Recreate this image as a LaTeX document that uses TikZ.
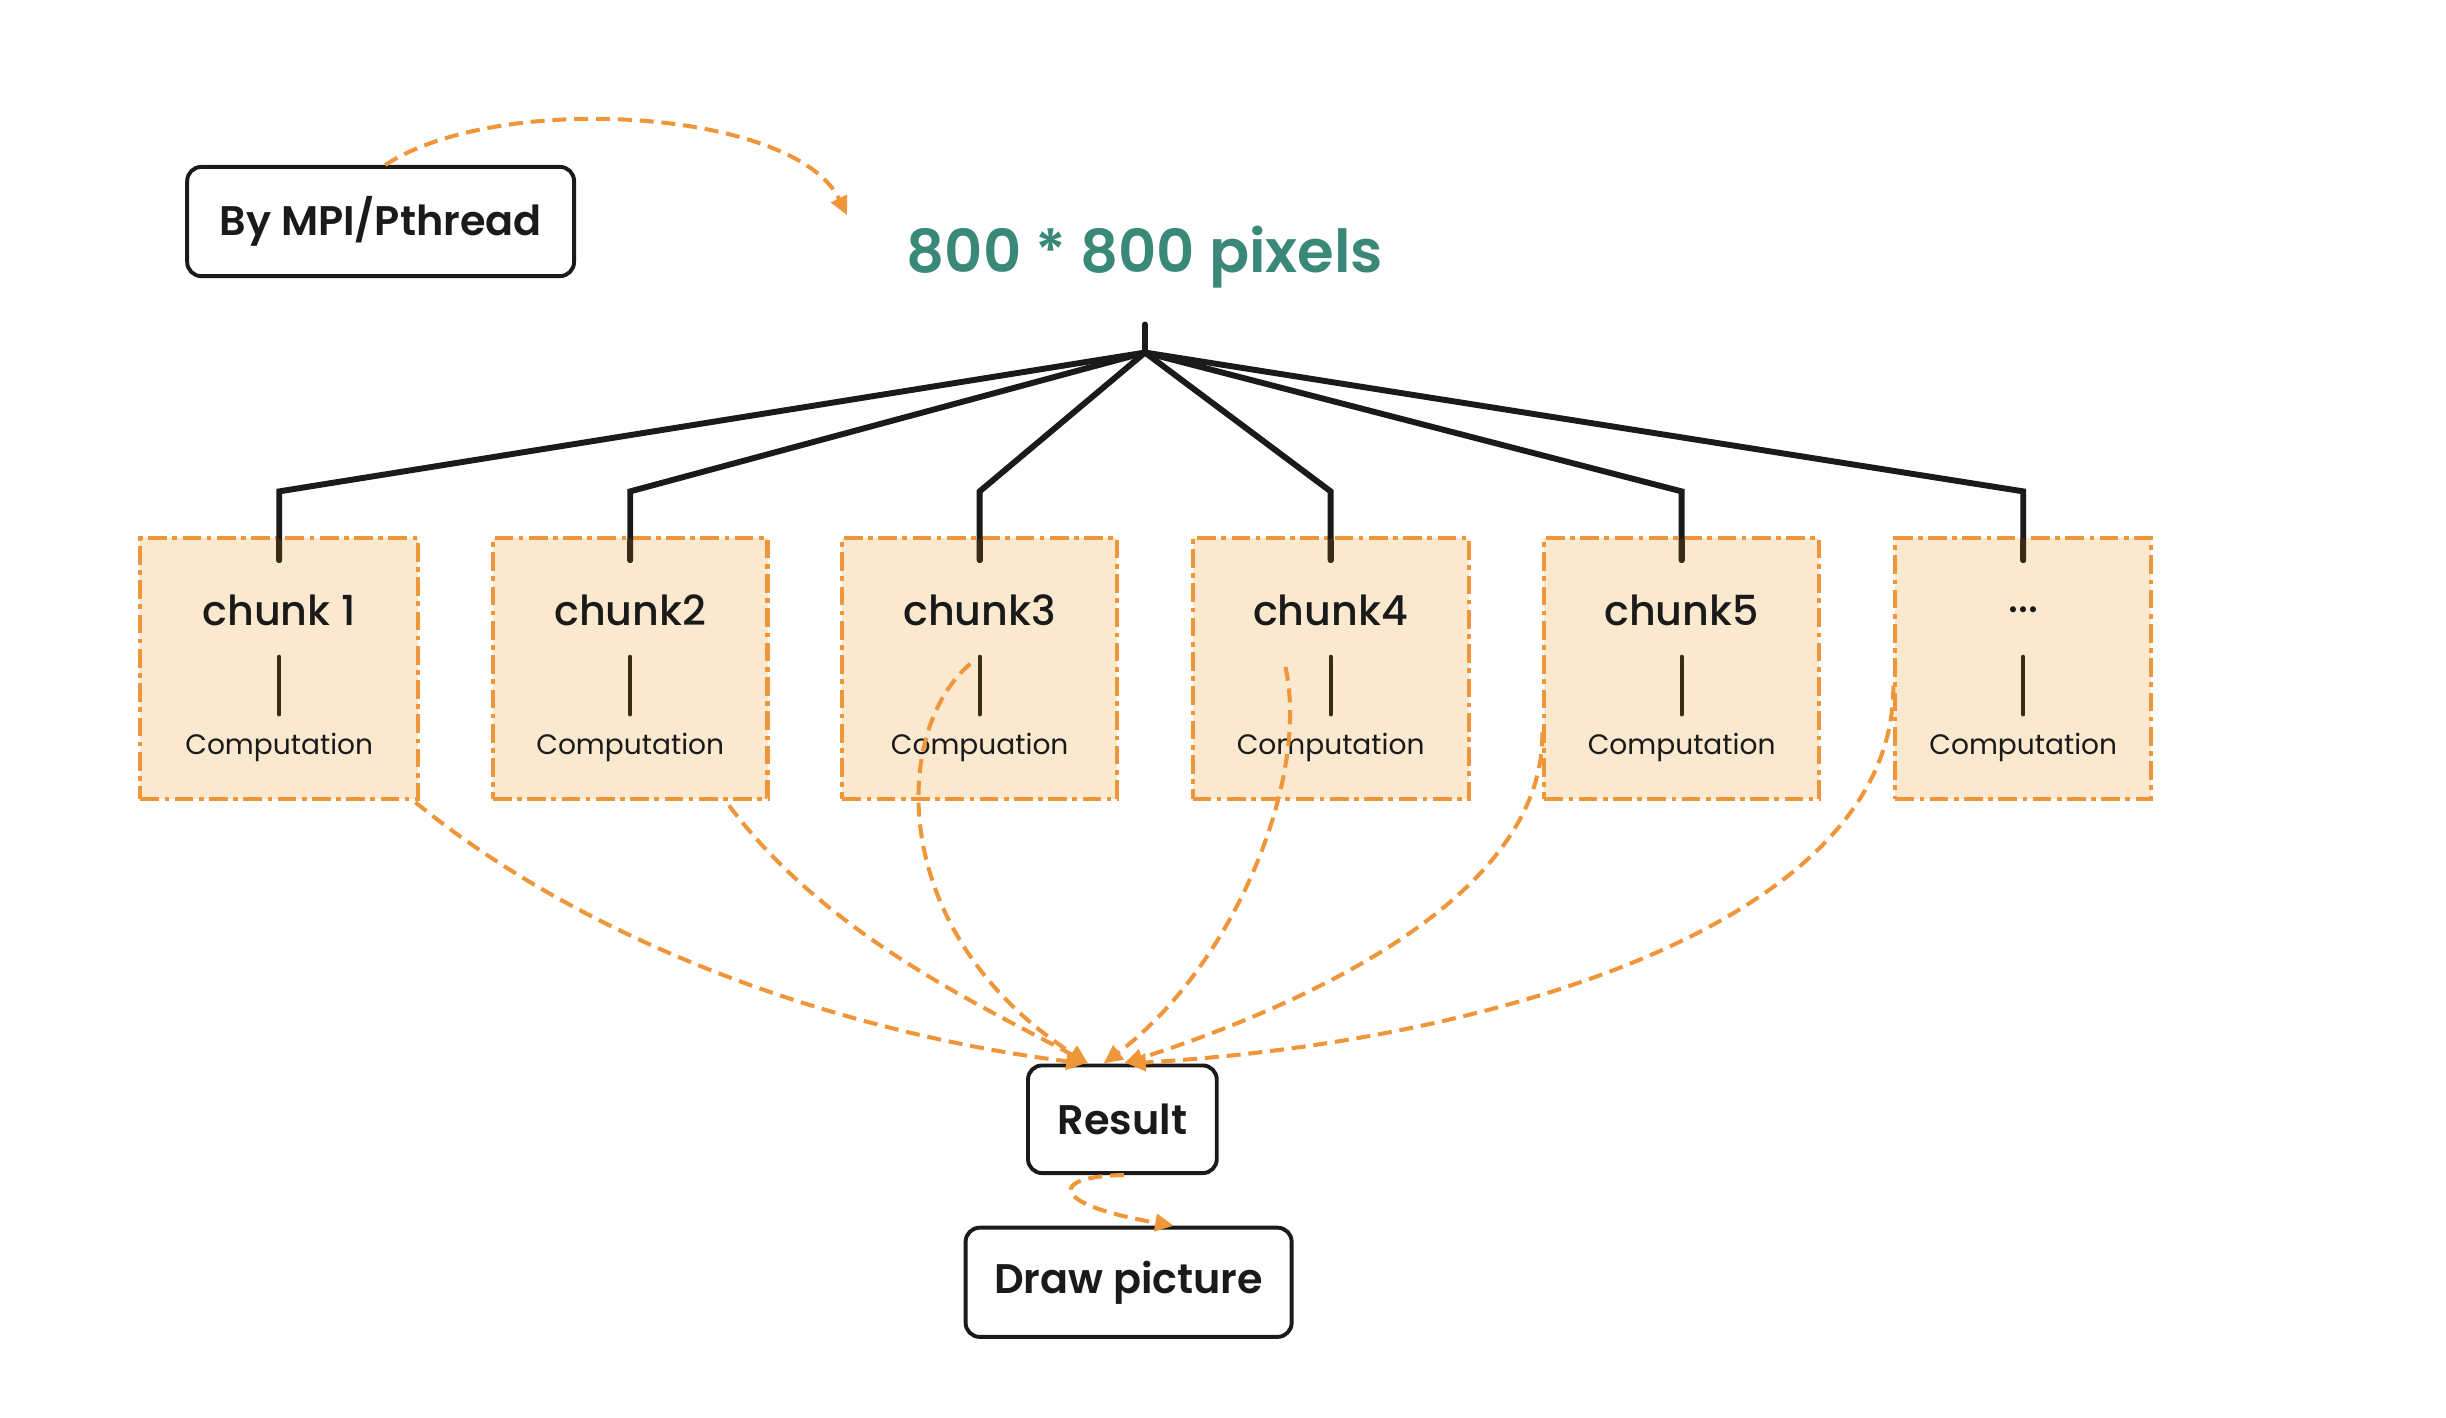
\documentclass[tikz,border=0pt]{standalone}
\usepackage{fontspec}
\setmainfont{Poppins}
\newfontfamily\semib{Poppins SemiBold}
\newfontfamily\medium{Poppins Medium}
\usetikzlibrary{arrows.meta}
\definecolor{ink}{HTML}{1A1A1A}
\definecolor{orng}{HTML}{F0963A}
\definecolor{chunkfill}{HTML}{FAE8CF}
\definecolor{teal}{HTML}{3A8878}
\definecolor{inner}{HTML}{3B2A14}
\newcommand\mydots{...}
\tikzset{
  blackbox/.style={draw=ink, line width=2.5pt, rounded corners=9pt, fill=white, inner sep=0pt,
    font=\semib\fontsize{26.5}{30}\selectfont, text=ink},
  chunkbox/.style={draw=orng, fill=chunkfill, line width=2.6pt,
    dash pattern=on 12pt off 3.5pt on 3pt off 3.5pt, minimum height=167pt, inner sep=0pt},
  chunktitle/.style={font=\medium\fontsize{26.5}{30}\selectfont, text=ink, inner sep=0pt},
  comptext/.style={font=\fontsize{18}{21}\selectfont, text=ink, inner sep=0pt},
  tree/.style={draw=ink, line width=3.8pt, line cap=round, line join=miter},
  treein/.style={draw=inner, line width=3.8pt, line cap=round},
  innerline/.style={draw=inner, line width=2.6pt, line cap=round},
  flow/.style={draw=orng, line width=2.6pt, dash pattern=on 9pt off 5pt,
    -{Triangle[length=12pt,width=11pt]}},
}
\begin{document}
\begin{tikzpicture}[x=1pt,y=-1pt]
\useasboundingbox (0,0) rectangle (1568,909);

% title and top box
\node[blackbox, minimum width=248pt, minimum height=70pt] (mpi) at (244,142) {By MPI/Pthread};
\node[font=\semib\fontsize{38}{42}\selectfont, text=teal, inner sep=0pt] (title) at (734,165) {800 * 800 pixels};
\coordinate (mpiend) at (543,138);
\draw[flow] ([xshift=3pt]mpi.north) .. controls (320,58) and (510,70) .. (mpiend);

% hub
\coordinate (hubtop) at (734,208);
\coordinate (hub) at (734,226);

% chunk boxes
\node[chunkbox, minimum width=178pt] (c1) at (179,428.5) {};
\node[chunkbox, minimum width=176pt] (c2) at (404,428.5) {};
\node[chunkbox, minimum width=176pt] (c3) at (628,428.5) {};
\node[chunkbox, minimum width=177pt] (c4) at (853,428.5) {};
\node[chunkbox, minimum width=176pt] (c5) at (1078,428.5) {};
\node[chunkbox, minimum width=164pt] (c6) at (1297,428.5) {};

\foreach \i/\x/\t/\c in {1/179/chunk 1/Computation, 2/404/chunk2/Computation,
    3/628/chunk3/Compuation, 4/853/chunk4/Computation, 5/1078/chunk5/Computation,
    6/1297/\mydots/Computation}{
  \node[chunktitle] (t\i) at (\x,391) {\t};
  \node[comptext] (m\i) at (\x,479) {\c};
  \coordinate (la\i) at (\x,421);
  \coordinate (lb\i) at (\x,458);
  \draw[innerline] (la\i) -- (lb\i);
  \coordinate (e\i) at (\x,315);
  \coordinate (b\i) at (\x,347);
  \coordinate (d\i) at (\x,359);
}

% tree
\draw[tree] (hubtop) -- (hub);
\foreach \i in {1,2,3,4,5,6}{
  \draw[tree] (hub) -- (e\i) -- (d\i);
  \draw[treein] (b\i) -- (d\i);
}

% result boxes
\node[blackbox, minimum width=121pt, minimum height=69pt] (res) at (719.5,717.5) {Result};
\node[blackbox, minimum width=209pt, minimum height=70pt] (pic) at (723.5,822) {Draw picture};

% flows to result
\draw[flow] ([xshift=-3pt,yshift=-1pt]c1.south east) .. controls (390,615) and (560,665) .. ([xshift=-24pt]res.north);
\draw[flow] ([xshift=-26pt,yshift=-3pt]c2.south east) .. controls (530,600) and (630,645) .. ([xshift=-22pt]res.north);
\draw[flow] ([xshift=-6pt,yshift=3pt]c3.center) .. controls (570,470) and (570,600) .. ([xshift=-22pt]res.north);
\draw[flow] ([xshift=-29pt,yshift=1pt]c4.center) .. controls (840,500) and (790,620) .. ([xshift=-12pt]res.north);
\draw[flow] ([yshift=-41pt]c5.west) .. controls (990,570) and (850,640) .. ([xshift=1pt]res.north);
\draw[flow] ([yshift=-11pt]c6.west) .. controls (1215,590) and (960,668) .. ([xshift=3pt]res.north);

% result to picture
\draw[flow] ([xshift=1pt]res.south) .. controls (672,754) and (672,772) .. ([xshift=29pt]pic.north);
\end{tikzpicture}
\end{document}
